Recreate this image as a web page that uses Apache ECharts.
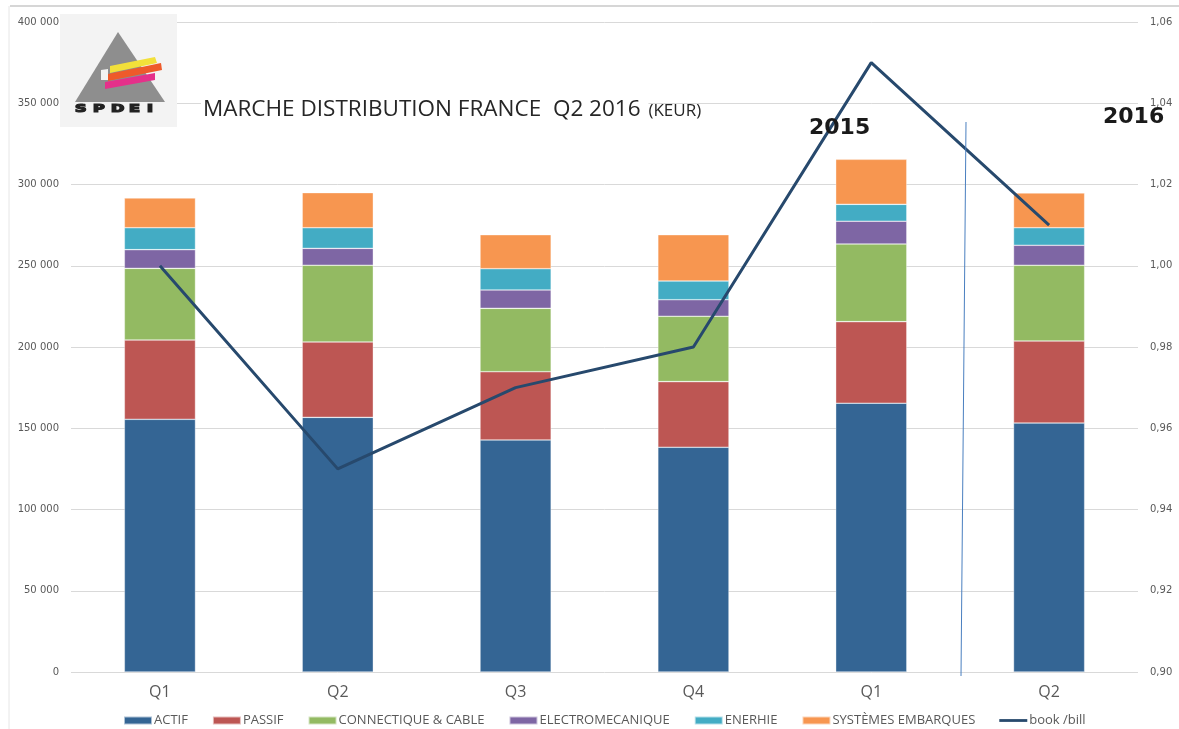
<!DOCTYPE html>
<html>
<head>
<meta charset="utf-8">
<script src="https://cdn.jsdelivr.net/npm/echarts@6/dist/echarts.min.js"></script>
<style>
  html, body { margin: 0; padding: 0; background: #fff; }
  #chart { width: 1179px; height: 729px; }
</style>
</head>
<body>
<div id="chart"></div>
<script>
// categories (2015 Q1..Q4, 2016 Q1..Q2)
const quarters = ["Q1", "Q2", "Q3", "Q4", "Q1", "Q2"];

// KEUR per segment
const actif = [155500, 156700, 142800, 138300, 165400, 153200];
const passif = [48800, 46400, 42000, 40400, 50200, 50500];
const connectique = [44100, 47200, 39000, 40200, 47800, 46600];
const electromecanique = [11500, 10400, 11300, 10200, 14000, 12300];
const enerhie = [13500, 12700, 13100, 11500, 10400, 10800];
const systemes = [18300, 21600, 20900, 28500, 27700, 21400];

// book / bill ratio (right axis)
const bookBill = [1.00, 0.95, 0.97, 0.98, 1.05, 1.01];

const leftTicks = { min: 0, max: 400000, interval: 50000 };
const rightTicks = { min: 0.9, max: 1.06, interval: 0.02 };

const chart = echarts.init(document.getElementById("chart"));

function bar(name, data, color) {
  return {
    name: name,
    type: "bar",
    stack: "total",
    barWidth: "40%",
    data: data,
    itemStyle: { color: color, borderColor: "rgba(255,255,255,0.6)", borderWidth: 0.6 },
  };
}

// logo letters, wide and heavy like the original
const logoLetters = "SPDEI".split("").map((ch, i) => ({
  type: "text",
  x: 75 + i * 18,
  y: 104,
  scaleX: 1.6,
  z: 12,
  style: { text: ch, font: "bold 10px 'DejaVu Sans'", fill: "#222", stroke: "#222", lineWidth: 1.2 },
}));

const option = {
  backgroundColor: "#fff",
  animation: false,
  grid: { left: 71, right: 41, top: 22, bottom: 57 },
  legend: {
    top: 709,
    left: 118,
    itemWidth: 28,
    itemHeight: 8,
    itemGap: 24,
    icon: "rect",
    textStyle: { color: "#595959", fontSize: 13, fontFamily: "Open Sans", padding: [0, 0, 0, -3] },
    data: [
      "ACTIF", "PASSIF", "CONNECTIQUE & CABLE", "ELECTROMECANIQUE",
      "ENERHIE", "SYSTÈMES EMBARQUES",
      { name: "book /bill", icon: "path://M0,0 L10,0 L10,1 L0,1 Z" },
    ],
  },
  xAxis: {
    type: "category",
    data: quarters,
    axisLine: { show: false },
    axisTick: { show: false },
    axisLabel: { color: "#595959", fontSize: 16, fontFamily: "Open Sans", margin: 12 },
  },
  yAxis: [
    {
      type: "value",
      min: leftTicks.min,
      max: leftTicks.max,
      interval: leftTicks.interval,
      axisLine: { show: false },
      axisTick: { show: false },
      splitLine: { lineStyle: { color: "#d9d9d9", width: 1 } },
      axisLabel: {
        color: "#595959",
        fontSize: 10,
        fontFamily: "DejaVu Sans",
        margin: 12,
        formatter: (v) => String(v).replace(/\B(?=(\d{3})+(?!\d))/g, " "),
      },
    },
    {
      type: "value",
      min: rightTicks.min,
      max: rightTicks.max,
      interval: rightTicks.interval,
      axisLine: { show: false },
      axisTick: { show: false },
      splitLine: { show: false },
      axisLabel: {
        color: "#595959",
        fontSize: 10,
        fontFamily: "DejaVu Sans",
        margin: 12,
        formatter: (v) => v.toFixed(2).replace(".", ","),
      },
    },
  ],
  series: [
    bar("ACTIF", actif, "#346594"),
    bar("PASSIF", passif, "#bd5653"),
    bar("CONNECTIQUE & CABLE", connectique, "#93ba62"),
    bar("ELECTROMECANIQUE", electromecanique, "#7e66a4"),
    bar("ENERHIE", enerhie, "#43acc4"),
    bar("SYSTÈMES EMBARQUES", systemes, "#f79650"),
    {
      name: "book /bill",
      type: "line",
      yAxisIndex: 1,
      data: bookBill,
      symbol: "none",
      z: 5,
      lineStyle: { color: "#27496d", width: 3 },
      itemStyle: { color: "#27496d" },
    },
  ],
  graphic: [
    // frame
    { type: "line", shape: { x1: 10, y1: 6, x2: 1179, y2: 6 }, style: { stroke: "#c8c8c8", lineWidth: 1.5 } },
    { type: "line", shape: { x1: 9, y1: 6, x2: 9, y2: 729 }, style: { stroke: "#e6e6e6", lineWidth: 1 } },
    // logo
    { type: "rect", shape: { x: 60, y: 14, width: 117, height: 113 }, style: { fill: "#f3f3f3" }, z: 10 },
    { type: "polygon", shape: { points: [[118, 32], [75, 102], [165, 102]] }, style: { fill: "#8e8e8e" }, z: 11 },
    { type: "polygon", shape: { points: [[110, 66], [155, 57], [157, 63], [110, 73]] }, style: { fill: "#f2e03a" }, z: 12 },
    { type: "polygon", shape: { points: [[108, 74], [161, 63], [162, 70], [108, 81]] }, style: { fill: "#ee5a2a" }, z: 12 },
    { type: "polygon", shape: { points: [[105, 82], [155, 73], [155, 80], [105, 89]] }, style: { fill: "#e5308a" }, z: 12 },
    { type: "polygon", shape: { points: [[101, 70], [108, 69], [108, 80], [101, 80]] }, style: { fill: "#f3f3f3" }, z: 12 },
    ...logoLetters,
    // title
    {
      type: "text", left: 201, top: 98, z: 10,
      style: {
        text: "{a|MARCHE DISTRIBUTION FRANCE  Q2 2016 }{b|(KEUR)}",
        rich: {
          a: { fontSize: 22.5, fontFamily: "Open Sans", fill: "#262626", backgroundColor: "#fff", padding: [0, 2, 0, 2] },
          b: { fontSize: 17, fontFamily: "Open Sans", fill: "#262626", padding: [4, 0, 0, 0] },
        },
      },
    },
    {
      type: "text", left: 809, top: 117, z: 10,
      style: { text: "2015", font: "bold 22px 'DejaVu Sans'", fill: "#1a1a1a" },
    },
    {
      type: "text", left: 1103, top: 106, z: 10,
      style: { text: "2016", font: "bold 22px 'DejaVu Sans'", fill: "#1a1a1a" },
    },
    // year separator
    { type: "line", shape: { x1: 966, y1: 122, x2: 961, y2: 676 }, style: { stroke: "#4a7fc0", lineWidth: 1 }, z: 10 },
  ],
};

chart.setOption(option);
</script>
</body>
</html>
